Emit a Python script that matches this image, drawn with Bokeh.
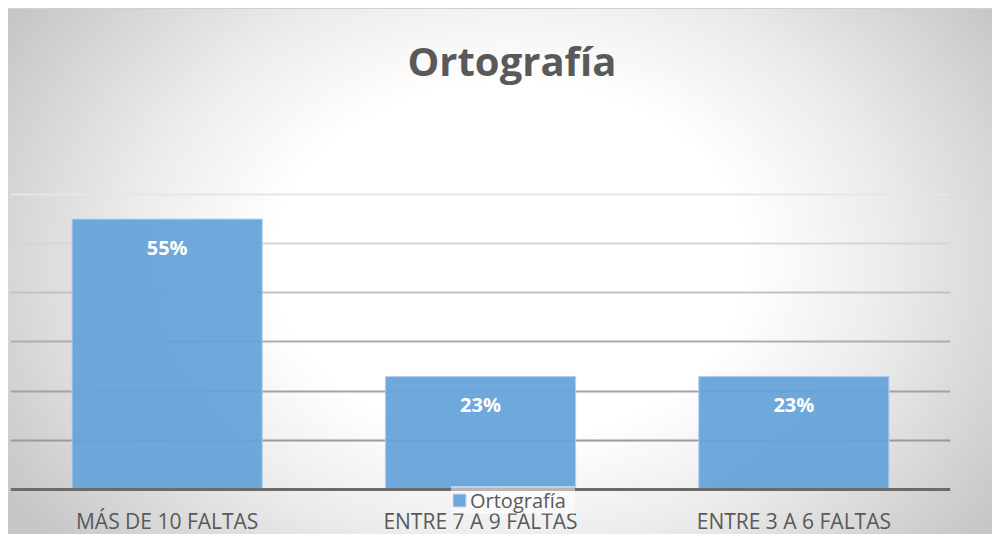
from bokeh.plotting import figure
from bokeh.models import (ColumnDataSource, Range1d, FixedTicker, Grid, Legend,
                          LegendItem, LabelSet, Span)
from bokeh.core.properties import value
from bokeh.embed import file_html
from bokeh.resources import INLINE

categories = ["MÁS DE 10 FALTAS", "ENTRE 7 A 9 FALTAS", "ENTRE 3 A 6 FALTAS"]
values = [0.55, 0.23, 0.23]
labels = ["55%", "23%", "23%"]
grid_ticks = [0.1, 0.2, 0.3, 0.4, 0.5, 0.6]
grid_colors = ["#9a9a9a", "#a2a2a2", "#adadad", "#c2c2c2", "#d6d6d6", "#e6e6e6"]
series_name = "Ortografía"
title_text = "Ortografía"

src = ColumnDataSource(dict(cat=categories, val=values, lab=labels,
                            base=[0] * len(categories)))

p = figure(x_range=categories, y_range=Range1d(-0.0936, 0.7912),
           width=984, height=526, output_backend="svg", toolbar_location=None,
           min_border_left=2, min_border_right=42, min_border_top=91,
           min_border_bottom=0)
p.styles = {"background-image":
            "radial-gradient(ellipse 60% 85% at 51% 48%, #ffffff 0%, #ffffff 40%, #ececec 64%, #c6c6c6 100%)",
            "border-top": "1px solid #d0d0d0",
            "margin-left": "8px", "margin-top": "8px"}
p.border_fill_alpha = 0
p.background_fill_alpha = 0
p.outline_line_color = None

p.title.text = title_text
p.title.align = "left"
p.title.text_font = "Open Sans"
p.title.text_font_style = "bold"
p.title.text_font_size = "40px"
p.title.text_color = "#595959"
p.title.standoff = 26
p.title.offset = 397

p.ygrid.visible = False
p.xgrid.visible = False
p.xaxis.visible = False
p.yaxis.visible = False
for t, c in zip(grid_ticks, grid_colors):
    p.add_layout(Grid(dimension=1, ticker=FixedTicker(ticks=[t]),
                      grid_line_color=c, grid_line_width=2))

bars = p.vbar(x="cat", top="val", bottom="base", width=0.607, source=src,
              fill_color="#66a3d8", fill_alpha=0.94,
              line_color="#b3d0ec", line_width=1)

baseline = Span(location=0, dimension="width", line_color="#6b6b6b",
                line_width=3, level="glyph")
p.add_layout(baseline)

p.add_layout(LabelSet(x="cat", y="val", text="lab", source=src,
                      text_align="center", text_baseline="middle",
                      y_offset=-28, text_color="white",
                      text_font=value("Open Sans"), text_font_style="bold",
                      text_font_size=value("20px")))

# category labels under the baseline, placed with the categorical scale
p.text(x="cat", y="base", text="cat", source=src, y_offset=32,
       text_align="center", text_baseline="middle",
       text_font=value("Open Sans"), text_font_size=value("21px"),
       text_color="#595959")

legend = Legend(items=[LegendItem(label=series_name, renderers=[bars])],
                location=(441, 21), orientation="horizontal",
                background_fill_color="white", background_fill_alpha=0.5,
                border_line_color=None, label_text_font="Open Sans",
                label_text_font_size="20px", label_text_color="#595959",
                glyph_width=16, glyph_height=16, padding=14, margin=0,
                label_standoff=3, spacing=0, label_width=105,
                label_height=28)
p.add_layout(legend, "center")

open("out.html", "w").write(file_html(p, INLINE))
